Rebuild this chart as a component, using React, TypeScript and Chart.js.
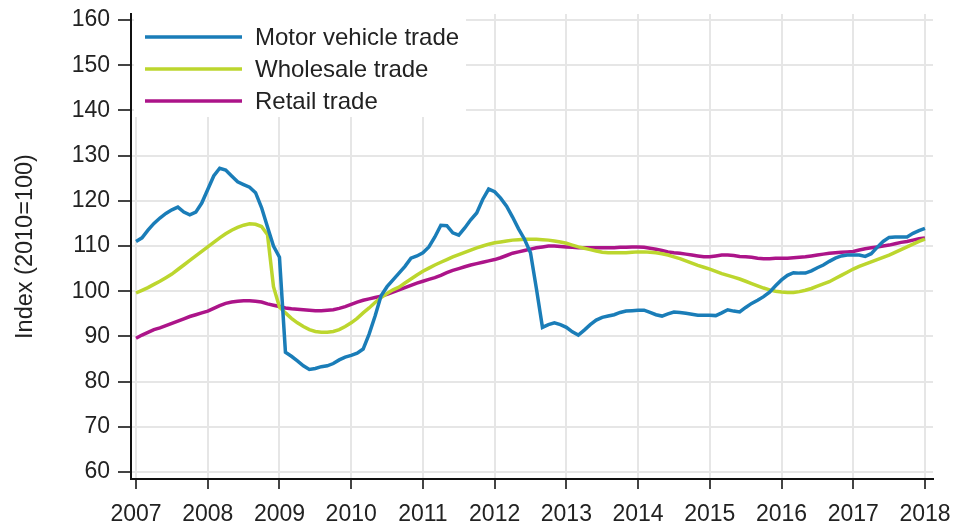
import React, { useEffect, useRef } from "react";
import { Chart, registerables } from "chart.js";

Chart.register(...registerables);

const START_YEAR = 2007;
const YEAR_TICKS = [2007, 2008, 2009, 2010, 2011, 2012, 2013, 2014, 2015, 2016, 2017, 2018];
const Y_TICKS = [60, 70, 80, 90, 100, 110, 120, 130, 140, 150, 160];
const SERIES_NAMES = ["Motor vehicle trade", "Wholesale trade", "Retail trade"];
const Y_TITLE = "Index (2010=100)";

// Monthly index values, Jan 2007 .. Jan 2018
const MOTOR_VEHICLE = [
  111, 111.8, 113.5, 115, 116.2, 117.2, 118, 118.6, 117.5, 116.9, 117.5, 119.5,
  122.5, 125.5, 127.2, 126.8, 125.5, 124.2, 123.6, 123, 121.8, 118.5, 114.2, 110,
  107.5, 86.5, 85.6, 84.6, 83.5, 82.7, 82.9, 83.3, 83.5, 84, 84.8, 85.4,
  85.8, 86.3, 87.2, 90.5, 94.5, 99, 101, 102.5, 104, 105.5, 107.3, 107.8,
  108.5, 109.8, 112, 114.6, 114.5, 112.9, 112.4, 114, 115.8, 117.3, 120.3, 122.6,
  122, 120.6, 118.8, 116.4, 113.8, 111.5, 108.5, 100.5, 92, 92.6, 93, 92.6,
  92, 91, 90.3, 91.4, 92.6, 93.6, 94.2, 94.5, 94.8, 95.3, 95.6, 95.7,
  95.8, 95.8, 95.3, 94.8, 94.5, 95, 95.4, 95.3, 95.1, 94.9, 94.7, 94.7,
  94.7, 94.6, 95.2, 95.9, 95.6, 95.4, 96.4, 97.3, 98, 98.8, 99.8, 101.2,
  102.5, 103.5, 104.1, 104, 104, 104.5, 105.2, 105.8, 106.6, 107.3, 107.8, 108,
  108, 108, 107.7, 108.3, 109.7, 111, 111.9, 112, 112, 112, 112.8, 113.4,
  113.9,
];

const WHOLESALE = [
  99.6, 100.2, 100.8, 101.5, 102.2, 103, 103.8, 104.8, 105.8, 106.8, 107.8, 108.8,
  109.8, 110.8, 111.8, 112.7, 113.5, 114.1, 114.6, 114.9, 114.8, 114.3, 112.5, 101,
  96.5, 95.2, 94, 93, 92.2, 91.5, 91.1, 90.9, 90.9, 91.1, 91.5, 92.2,
  93, 94, 95.2, 96.3, 97.5, 98.6, 99.5, 100.3, 100.9, 101.8, 102.7, 103.6,
  104.4, 105.1, 105.8, 106.4, 107, 107.6, 108.1, 108.6, 109.1, 109.6, 110, 110.4,
  110.7, 110.9, 111.1, 111.3, 111.4, 111.5, 111.5, 111.5, 111.4, 111.3, 111.1, 110.9,
  110.6, 110.2, 109.8, 109.5, 109.2, 108.9, 108.6, 108.5, 108.5, 108.5, 108.5, 108.6,
  108.7, 108.7, 108.6, 108.5, 108.3, 108, 107.6, 107.2, 106.7, 106.2, 105.7, 105.3,
  104.9, 104.4, 103.9, 103.5, 103.1, 102.7, 102.2, 101.7, 101.2, 100.7, 100.3, 100,
  99.8, 99.7, 99.7, 99.9, 100.2, 100.6, 101.1, 101.6, 102.1, 102.8, 103.5, 104.2,
  104.9, 105.5, 106, 106.5, 107, 107.5, 108, 108.6, 109.2, 109.8, 110.4, 111,
  111.5,
];

const RETAIL = [
  89.6, 90.3, 90.9, 91.5, 91.9, 92.4, 92.9, 93.4, 93.9, 94.4, 94.8, 95.2,
  95.6, 96.2, 96.8, 97.3, 97.6, 97.8, 97.9, 97.9, 97.8, 97.6, 97.2, 96.9,
  96.6, 96.3, 96.1, 96, 95.9, 95.8, 95.7, 95.7, 95.8, 95.9, 96.2, 96.6,
  97.1, 97.6, 98, 98.3, 98.6, 98.9, 99.3, 99.8, 100.3, 100.8, 101.3, 101.8,
  102.2, 102.6, 103, 103.5, 104.1, 104.6, 105, 105.4, 105.8, 106.1, 106.4, 106.7,
  107, 107.4, 107.9, 108.4, 108.7, 109, 109.3, 109.6, 109.8, 110, 110, 109.9,
  109.8, 109.7, 109.6, 109.6, 109.6, 109.6, 109.6, 109.6, 109.6, 109.7, 109.7, 109.8,
  109.8, 109.7, 109.5, 109.3, 109, 108.7, 108.5, 108.4, 108.2, 108, 107.8, 107.6,
  107.6, 107.8, 108, 108, 107.9, 107.7, 107.6, 107.5, 107.3, 107.2, 107.2, 107.3,
  107.3, 107.3, 107.4, 107.5, 107.6, 107.8, 108, 108.2, 108.4, 108.5, 108.6, 108.7,
  108.8, 109.1, 109.4, 109.6, 109.8, 110, 110.2, 110.5, 110.8, 111, 111.3, 111.6,
  111.8,
];

const COLORS = ["#1a7db8", "#bcd62e", "#ac1489"];
const FONT = "'Liberation Sans', Arial, sans-serif";
const FONT_SIZE = 23;

const toPoints = (arr: number[]) => arr.map((v, i) => ({ x: START_YEAR + i / 12, y: v }));

const zeroPadding = (s: any) => {
  s.paddingLeft = 0;
  s.paddingRight = 0;
  s.paddingTop = 0;
  s.paddingBottom = 0;
};

const legendPlugin = {
  id: "insetLegend",
  afterDatasetsDraw(chart: any) {
    const ctx = chart.ctx as CanvasRenderingContext2D;
    const area = chart.chartArea;
    ctx.save();
    ctx.fillStyle = "#ffffff";
    ctx.fillRect(area.left + 3, area.top, 332, 103);
    ctx.font = `24px ${FONT}`;
    ctx.textBaseline = "middle";
    ctx.textAlign = "left";
    SERIES_NAMES.forEach((name, i) => {
      const y = area.top + 23 + i * 32;
      ctx.strokeStyle = COLORS[i];
      ctx.lineWidth = 3.5;
      ctx.beginPath();
      ctx.moveTo(area.left + 14, y);
      ctx.lineTo(area.left + 111, y);
      ctx.stroke();
      ctx.fillStyle = "#222222";
      ctx.fillText(name, area.left + 124, y + 1);
    });
    ctx.restore();
  },
};

export default function App() {
  const ref = useRef<HTMLCanvasElement | null>(null);

  useEffect(() => {
    document.body.style.margin = "0";
    const canvas = ref.current;
    if (!canvas) return;
    const series = [MOTOR_VEHICLE, WHOLESALE, RETAIL];
    const chart = new Chart(canvas, {
      type: "line",
      data: {
        datasets: series.map((arr, i) => ({
          label: SERIES_NAMES[i],
          data: toPoints(arr),
          borderColor: COLORS[i],
          backgroundColor: COLORS[i],
          borderWidth: 3.5,
          pointRadius: 0,
          tension: 0,
          fill: false,
        })),
      },
      options: {
        responsive: false,
        devicePixelRatio: 1,
        animation: false,
        layout: { padding: { top: 14, right: 24, left: 0, bottom: 0 } },
        plugins: { legend: { display: false }, tooltip: { enabled: false } },
        scales: {
          x: {
            type: "linear",
            min: 2006.93,
            max: 2018.112,
            afterBuildTicks: (s: any) => {
              s.ticks = YEAR_TICKS.map((v) => ({ value: v }));
            },
            afterFit: (s: any) => {
              s.height = 52;
              zeroPadding(s);
            },
            grid: { color: "#e6e6e6", lineWidth: 2, tickLength: 10, tickColor: "#444", tickWidth: 2 },
            border: { display: true, color: "#111", width: 2 },
            ticks: {
              font: { family: FONT, size: FONT_SIZE },
              color: "#222",
              padding: 12,
              maxRotation: 0,
              autoSkip: false,
              callback: (v: any) => String(v),
            },
          },
          y: {
            min: 58.45,
            max: 161.33,
            afterBuildTicks: (s: any) => {
              s.ticks = Y_TICKS.map((v) => ({ value: v }));
            },
            afterFit: (s: any) => {
              s.width = 131;
              zeroPadding(s);
            },
            grid: { color: "#e6e6e6", lineWidth: 2, tickLength: 13, tickColor: "#444", tickWidth: 2 },
            border: { display: true, color: "#111", width: 2 },
            ticks: {
              font: { family: FONT, size: FONT_SIZE },
              color: "#222",
              padding: 8,
              autoSkip: false,
              callback: (v: any) => String(v),
            },
            title: {
              display: true,
              text: Y_TITLE,
              font: { family: FONT, size: 23.5 },
              color: "#222",
              padding: { top: 11, bottom: 0 },
            },
          },
        },
      },
      plugins: [legendPlugin],
    });
    return () => chart.destroy();
  }, []);

  return (
    <div style={{ width: 957, height: 531 }}>
      <canvas ref={ref} width={957} height={531} style={{ display: "block" }} />
    </div>
  );
}
